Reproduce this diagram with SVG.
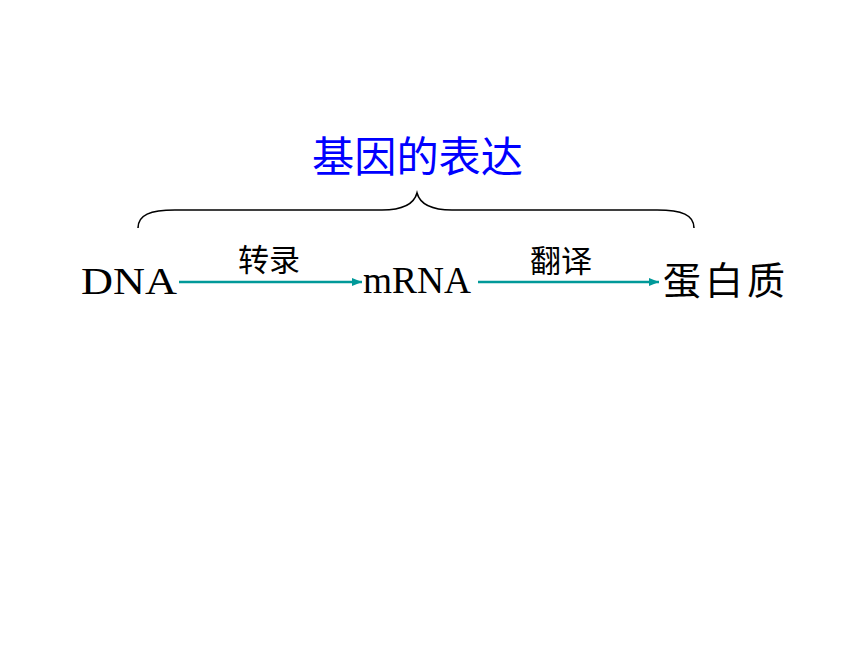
<svg xmlns="http://www.w3.org/2000/svg" width="860" height="645" viewBox="0 0 860 645">
  <style>
    .lat { font-family: "Liberation Serif", "DejaVu Serif", serif; font-size: 37px; fill: #000; }
    .cjk { font-family: "Noto Sans CJK SC", "Noto Sans CJK TC", sans-serif; fill: #000; }
    .title { font-family: "Noto Sans CJK SC", sans-serif; font-size: 42px; fill: #0000FF; }
    .conn { stroke: #009999; stroke-width: 2.6; fill: none; }
    .brace { stroke: #000; stroke-width: 1.6; fill: none; }
  </style>
  <defs>
    <marker id="ah" markerWidth="10" markerHeight="8" refX="10" refY="4" orient="auto" markerUnits="userSpaceOnUse">
      <path d="M0,0 L10,4 L0,8 Z" fill="#009999"/>
    </marker>
  </defs>
  <rect width="860" height="645" fill="#fff"/>
  <g id="title">
    <text class="title" x="312" y="172" textLength="211" lengthAdjust="spacingAndGlyphs">基因的表达</text>
  </g>
  <g id="brace">
    <path class="brace" d="M138,228 C138,215 150,210 175,210 L382,210 C402,210 414,204 417,193 C420,204 432,210 452,210 L657,210 C682,210 694,215 694,228"/>
  </g>
  <g id="node-dna">
    <text class="lat" x="81" y="294" textLength="96" lengthAdjust="spacingAndGlyphs">DNA</text>
  </g>
  <g id="node-mrna">
    <text class="lat" x="363" y="293" textLength="108" lengthAdjust="spacingAndGlyphs">mRNA</text>
  </g>
  <g id="node-protein">
    <text class="cjk" x="663" y="294" font-size="38" textLength="122" lengthAdjust="spacing">蛋白质</text>
  </g>
  <g id="connectors">
    <line class="conn" x1="179" y1="282" x2="362" y2="282" marker-end="url(#ah)"/>
    <line class="conn" x1="478" y1="282" x2="659" y2="282" marker-end="url(#ah)"/>
    <text class="cjk" x="238" y="271" font-size="31" textLength="62" lengthAdjust="spacingAndGlyphs">转录</text>
    <text class="cjk" x="530" y="272" font-size="31" textLength="62" lengthAdjust="spacingAndGlyphs">翻译</text>
  </g>
</svg>
